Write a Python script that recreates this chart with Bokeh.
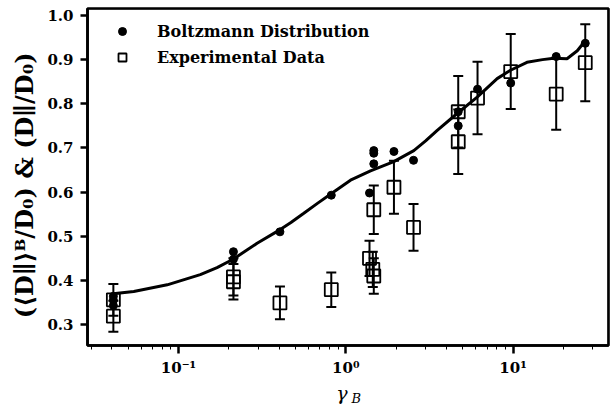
import numpy as np
from bokeh.plotting import figure
from bokeh.models import (ColumnDataSource, Whisker, TeeHead, Legend, LegendItem, LogAxis,
                          FixedTicker, CustomJSTickFormatter, Range1d, BoxAnnotation)
from bokeh.embed import file_html
from bokeh.resources import INLINE

# ---------------- data ----------------
boltz_x = [0.0408, 0.0408, 0.0408, 0.213, 0.213, 0.404, 0.819, 1.386, 1.47, 1.47, 1.47,
           1.94, 2.54, 4.70, 4.70, 6.13, 9.68, 18.1, 27.0]
boltz_y = [0.364, 0.355, 0.343, 0.465, 0.448, 0.510, 0.593, 0.598, 0.694, 0.688, 0.664,
           0.692, 0.672, 0.782, 0.750, 0.833, 0.847, 0.907, 0.937]

exp_x = [0.0408, 0.0408, 0.213, 0.213, 0.404, 0.819, 1.386, 1.45, 1.47, 1.47, 1.94, 2.54,
         4.70, 4.70, 6.13, 9.68, 18.1, 27.0]
exp_y = [0.356, 0.319, 0.408, 0.397, 0.349, 0.379, 0.450, 0.425, 0.410, 0.560, 0.611, 0.520,
         0.782, 0.714, 0.813, 0.873, 0.822, 0.893]
exp_err = [0.036, 0.035, 0.042, 0.040, 0.037, 0.039, 0.040, 0.040, 0.040, 0.055, 0.060, 0.053,
           0.081, 0.073, 0.082, 0.085, 0.081, 0.087]

curve_x = [0.0407, 0.054, 0.0856, 0.135, 0.17, 0.212, 0.25, 0.295, 0.389, 0.47, 0.561, 0.68,
           0.821, 1.067, 1.405, 1.936, 2.55, 3.0, 3.52, 4.63, 6.10, 8.03, 9.65, 12.1, 15.0,
           17.5, 21.0, 24.2, 27.3]
curve_y = [0.370, 0.375, 0.390, 0.413, 0.429, 0.448, 0.466, 0.484, 0.511, 0.531, 0.552,
           0.575, 0.597, 0.627, 0.648, 0.669, 0.694, 0.716, 0.740, 0.778, 0.815, 0.857,
           0.876, 0.894, 0.900, 0.903, 0.902, 0.920, 0.945]

y_ticks = [0.3, 0.4, 0.5, 0.6, 0.7, 0.8, 0.9, 1.0]
x_ticks = [0.1, 1, 10]

legend_labels = ["Boltzmann Distribution", "Experimental Data"]
y_label = "(⟨D∥⟩ᴮ/D₀)  &  (D∥/D₀)"
x_label_main = "γ"
x_label_sub = "B"

SERIF = "DejaVu Serif"
NBSP = "\u00a0"

# ---------------- figure ----------------
p = figure(width=610, height=408, x_axis_type="log", output_backend="svg",
           toolbar_location=None,
           x_range=Range1d(0.02858, 37.18), y_range=Range1d(0.2526, 1.0158),
           min_border_left=87, min_border_right=2, min_border_top=8, min_border_bottom=62)

p.grid.visible = False
p.outline_line_color = "black"
p.outline_line_width = 2.6
p.background_fill_color = "white"
p.border_fill_color = "white"

# frame box
p.add_layout(BoxAnnotation(fill_alpha=0, line_color="black", line_width=2.6, level="overlay"))

# axes
p.axis.axis_line_color = "black"
p.axis.axis_line_width = 2.6
p.axis.major_label_text_font = SERIF
p.axis.major_label_text_font_style = "bold"
p.axis.major_label_text_font_size = "15px"
p.axis.major_label_text_color = "black"
p.axis.major_tick_line_color = "black"
p.axis.minor_tick_line_color = "black"

p.yaxis.ticker = FixedTicker(ticks=y_ticks)
p.yaxis.formatter = CustomJSTickFormatter(code="return tick.toFixed(1);")
p.yaxis.major_tick_in = 0
p.yaxis.major_tick_out = 7
p.yaxis.major_tick_line_width = 2.5
p.yaxis.minor_tick_line_color = None
p.yaxis.major_label_standoff = 7
p.yaxis.axis_label = y_label
p.yaxis.axis_label_text_font = SERIF
p.yaxis.axis_label_text_font_style = "bold"
p.yaxis.axis_label_text_font_size = "24px"
p.yaxis.axis_label_text_color = "black"
p.yaxis.axis_label_standoff = 5

minor = [m * 10.0 ** e for e in (-2, -1, 0, 1) for m in range(2, 10)]
p.xaxis.ticker = FixedTicker(ticks=x_ticks, minor_ticks=minor)
p.xaxis.formatter = CustomJSTickFormatter(code="""
const sup = {'-':'\u207b','0':'\u2070','1':'\u00b9','2':'\u00b2','3':'\u00b3'};
const e = Math.round(Math.log10(tick));
return '10' + String(e).split('').map(c => sup[c]).join('');
""")
p.xaxis.major_tick_in = 0
p.xaxis.major_tick_out = 8
p.xaxis.major_tick_line_width = 2.5
p.xaxis.minor_tick_in = 0
p.xaxis.minor_tick_out = 4
p.xaxis.minor_tick_line_width = 1
p.xaxis.major_label_standoff = 5
p.xaxis.axis_label = x_label_main + NBSP * 2
p.xaxis.axis_label_text_font = SERIF
p.xaxis.axis_label_text_font_style = "italic"
p.xaxis.axis_label_text_font_size = "19px"
p.xaxis.axis_label_text_color = "black"
p.xaxis.axis_label_standoff = 2

# second (tick-less) axis carrying the subscript of the x label
sub_axis = LogAxis(ticker=FixedTicker(ticks=[]), axis_line_color=None,
                   major_tick_line_color=None, minor_tick_line_color=None,
                   major_label_text_font_size="0px",
                   axis_label=NBSP * 4 + x_label_sub, axis_label_text_font=SERIF,
                   axis_label_text_font_style="italic", axis_label_text_font_size="13px",
                   axis_label_text_color="black", axis_label_standoff=-16)
p.add_layout(sub_axis, "below")

# ---------------- glyphs ----------------
p.line(curve_x, curve_y, line_width=3, line_color="black")
r_dots = p.scatter(boltz_x, boltz_y, size=8, fill_color="black", line_color="black")
r_sq = p.scatter(exp_x, exp_y, marker="square", size=13, fill_color=None,
                 line_color="black", line_width=1.8)

ex = np.array(exp_x)
ey = np.array(exp_y)
ee = np.array(exp_err)
src = ColumnDataSource(dict(x=ex, upper=ey + ee, lower=ey - ee))
p.add_layout(Whisker(source=src, base="x", upper="upper", lower="lower",
                     dimension="height", line_width=2, line_color="black",
                     upper_head=TeeHead(size=10, line_width=2, line_color="black"),
                     lower_head=TeeHead(size=10, line_width=2, line_color="black")))

# ---------------- legend ----------------
legend = Legend(items=[LegendItem(label=legend_labels[0], renderers=[r_dots]),
                       LegendItem(label=legend_labels[1], renderers=[r_sq])],
                location=(25, 275), padding=0, margin=0, spacing=0,
                label_height=26, glyph_height=26, glyph_width=20, label_standoff=25,
                border_line_color=None, background_fill_alpha=0,
                label_text_font=SERIF, label_text_font_style="bold",
                label_text_font_size="16px", label_text_color="black")
p.add_layout(legend)

open("out.html", "w").write(file_html(p, INLINE))
